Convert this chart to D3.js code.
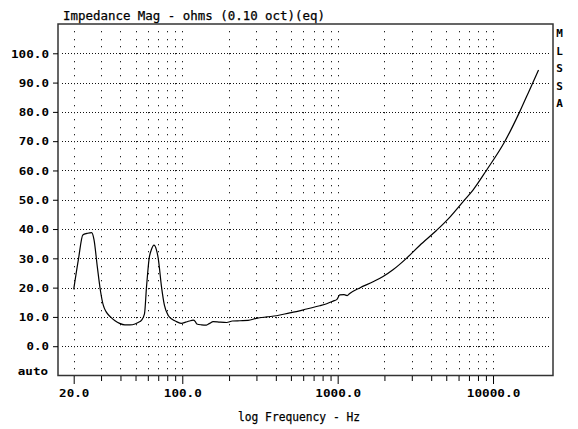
<!DOCTYPE html>
<meta charset="utf-8">
<html>
<head>
<script src="https://cdn.jsdelivr.net/npm/d3@7"></script>
<style>
    body { margin: 0; background: #fff; }
    text { font-family: "DejaVu Sans Mono", monospace; fill: #000; }
</style>
<script>
    // impedance curve (Hz, ohms)
    var freqs = [20, 21.5, 22.9, 24.4, 26.1, 27, 28.4, 29.8, 31, 32.3, 34.5, 36.9, 39.5, 42.7, 46, 49.6, 52, 54.7,
                 57.1, 58.8, 61.2, 63.3, 65.7, 68.1, 70, 73.6, 76.7, 81.2, 86, 91.8, 98.9, 105, 111, 117.5, 121, 124,
                 133, 143, 150, 158, 175, 193, 210, 235, 265, 300, 350, 404, 492, 560, 630, 767, 850, 934, 990, 1031,
                 1100, 1150, 1196, 1387, 1690, 1960, 2270, 2770, 3370, 4320, 5260, 6400, 7430, 9060, 11880, 14840,
                 17190, 19630];
    var ohms = [19.4, 30, 38, 38.5, 38.8, 36.5, 27, 18.6, 14, 11.8, 10, 8.7, 7.8, 7.3, 7.3, 7.6, 8.1, 8.9,
                11, 20, 30, 33, 34.5, 33, 30, 20, 14, 10.5, 9.2, 8.4, 7.8, 8.2, 8.6, 8.9, 8.5, 7.6,
                7.3, 7.2, 7.8, 8.4, 8.2, 8.1, 8.6, 8.7, 8.8, 9.5, 10, 10.4, 11.4, 12, 12.7, 13.8, 14.5, 15.4, 16, 17.5,
                17.6, 17.3, 18, 19.9, 22, 23.8, 26.1, 30, 34.4, 39.5, 44, 49.3, 53.3, 60, 69.8, 80,
                87.5, 94.3];

    var yTicks = [0, 10, 20, 30, 40, 50, 60, 70, 80, 90, 100];
    var majorFreqs = [20, 100, 1000, 10000];
    var majorLabels = ["20.0", "100.0", "1000.0", "10000.0"];
    var minorFreqs = [30, 40, 50, 60, 70, 80, 90, 200, 300, 400, 500, 600, 700, 800, 900,
                      2000, 3000, 4000, 5000, 6000, 7000, 8000, 9000];
    var sideLetters = ["M", "L", "S", "S", "A"];

    var CHAR_W = 7.8;

    function drawChart() {
        var svg = d3.select("#chart");

        var left = 58, right = 553, top = 24, bottom = 375.5;

        var x = d3.scaleLog()
            .domain([Math.pow(10, 1.2), Math.pow(10, 4.386)])
            .range([left, right]);
        var y = d3.scaleLinear()
            .domain([-10, 110])
            .range([bottom, top]);

        // horizontal dotted grid
        svg.append("g")
            .selectAll("line")
            .data(yTicks)
            .enter()
            .append("line")
                .attr("x1", 62)
                .attr("x2", 550)
                .attr("y1", d => Math.round(y(d)) + 0.5)
                .attr("y2", d => Math.round(y(d)) + 0.5)
                .attr("stroke", "#111")
                .attr("stroke-dasharray", "1,2");

        // vertical grid is made of single dots every 2.5 units
        var dotLevels = d3.range(-7.5, 110, 2.5);
        var gridFreqs = majorFreqs.concat(minorFreqs);
        var vg = svg.append("g");
        gridFreqs.forEach(function(f) {
            vg.selectAll(null)
                .data(dotLevels)
                .enter()
                .append("rect")
                    .attr("x", Math.round(x(f)))
                    .attr("y", d => Math.round(y(d)))
                    .attr("width", 1)
                    .attr("height", 1.3)
                    .attr("fill", "#222");
        });

        // frame
        svg.append("rect")
            .attr("x", left)
            .attr("y", top)
            .attr("width", right - left)
            .attr("height", bottom - top)
            .attr("fill", "none")
            .attr("stroke", "#333")
            .attr("stroke-width", 1.5);

        // x ticks: short minors and long majors
        svg.append("g")
            .attr("transform", "translate(0," + (bottom + 0.5) + ")")
            .call(d3.axisBottom(x).tickValues(minorFreqs).tickSize(5).tickFormat(""))
            .call(g => g.select(".domain").remove());

        var xMajor = svg.append("g")
            .attr("transform", "translate(0," + (bottom + 0.5) + ")")
            .call(d3.axisBottom(x).tickValues(majorFreqs).tickSize(8)
                .tickFormat((d, i) => majorLabels[i]))
            .call(g => g.select(".domain").remove());
        xMajor.selectAll("text")
            .attr("y", 21)
            .attr("dy", 0)
            .attr("font-size", 10.5)
            .attr("font-weight", "bold")
            .attr("font-family", "DejaVu Sans Mono")
            .attr("textLength", d => majorLabels[majorFreqs.indexOf(d)].length * CHAR_W - 1)
            .attr("lengthAdjust", "spacingAndGlyphs");

        // y ticks
        var yAxis = svg.append("g")
            .attr("transform", "translate(" + left + ",0)")
            .call(d3.axisLeft(y).tickValues(yTicks).tickSize(5).tickPadding(4)
                .tickFormat(d => d.toFixed(1)))
            .call(g => g.select(".domain").remove());
        yAxis.selectAll("text")
            .attr("dy", "0.36em")
            .attr("font-size", 10.5)
            .attr("font-weight", "bold")
            .attr("font-family", "DejaVu Sans Mono")
            .attr("textLength", d => d.toFixed(1).length * CHAR_W - 1)
            .attr("lengthAdjust", "spacingAndGlyphs");
        svg.selectAll(".tick line").attr("stroke", "#000");

        svg.append("text")
            .attr("x", 48)
            .attr("y", 375)
            .attr("text-anchor", "end")
            .attr("font-size", 10.5)
            .attr("font-weight", "bold")
            .attr("textLength", 4 * CHAR_W - 1)
            .attr("lengthAdjust", "spacingAndGlyphs")
            .text("auto");

        // the curve
        var line = d3.line()
            .x((d, i) => x(freqs[i]))
            .y(d => y(d))
            .curve(d3.curveMonotoneX);

        svg.append("path")
            .datum(ohms)
            .attr("d", line)
            .attr("fill", "none")
            .attr("stroke", "#000")
            .attr("stroke-width", 1.2);

        // titles
        svg.append("text")
            .attr("x", 63)
            .attr("y", 19.5)
            .attr("font-size", 12.5)
            .attr("stroke", "#000")
            .attr("stroke-width", 0.25)
            .attr("textLength", 262)
            .attr("lengthAdjust", "spacingAndGlyphs")
            .text("Impedance Mag - ohms (0.10 oct)(eq)");

        svg.append("text")
            .attr("x", 238)
            .attr("y", 421)
            .attr("font-size", 12.5)
            .attr("stroke", "#000")
            .attr("stroke-width", 0.25)
            .attr("textLength", 122)
            .attr("lengthAdjust", "spacingAndGlyphs")
            .text("log Frequency - Hz");

        svg.append("g")
            .selectAll("text")
            .data(sideLetters)
            .enter()
            .append("text")
                .attr("x", 559.5)
                .attr("y", (d, i) => 37 + i * 17.5)
                .attr("text-anchor", "middle")
                .attr("font-size", 11)
                .attr("font-weight", "bold")
                .text(d => d);
    }
</script>
</head>
<body onload="drawChart()">
    <svg id="chart" width="578" height="429"></svg>
</body>
</html>
